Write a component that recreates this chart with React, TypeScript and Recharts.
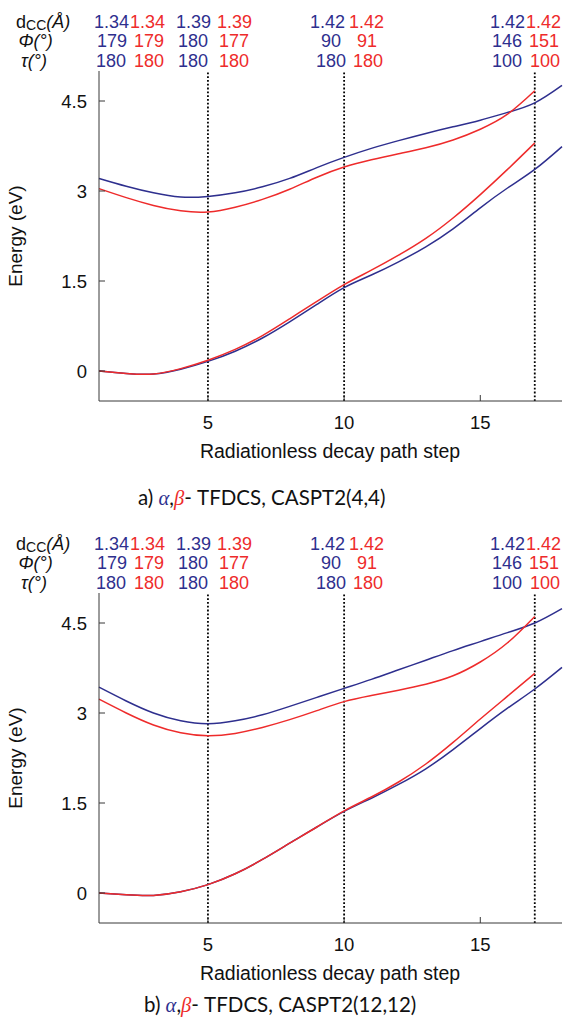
import { LineChart, Line, XAxis, YAxis, ReferenceLine } from 'recharts';

// ---------------------------------------------------------------------------
// Data
// ---------------------------------------------------------------------------

const steps = [1, 2, 3, 4, 5, 6, 7, 8, 9, 10, 11, 12, 13, 14, 15, 16, 17, 18];
const xTicks = [5, 10, 15];
const yTicks = [0, 1.5, 3, 4.5];
const markedSteps = [5, 10, 17];

// a) CASPT2(4,4)
const aAlphaUpper = [3.21, 3.08, 2.97, 2.9, 2.91, 2.97, 3.07, 3.21, 3.39, 3.56, 3.71, 3.84, 3.96, 4.07, 4.18, 4.31, 4.47, 4.76];
const aBetaUpper = [3.04, 2.89, 2.76, 2.67, 2.65, 2.73, 2.86, 3.03, 3.23, 3.4, 3.52, 3.62, 3.72, 3.85, 4.03, 4.28, 4.67];
const aAlphaLower = [0, -0.04, -0.05, 0.03, 0.16, 0.33, 0.55, 0.82, 1.11, 1.39, 1.6, 1.82, 2.07, 2.37, 2.72, 3.05, 3.36, 3.74];
const aBetaLower = [0, -0.04, -0.05, 0.04, 0.18, 0.36, 0.59, 0.87, 1.16, 1.44, 1.68, 1.93, 2.21, 2.55, 2.94, 3.36, 3.8];

// b) CASPT2(12,12)
const bAlphaUpper = [3.43, 3.2, 3.0, 2.87, 2.82, 2.87, 2.97, 3.11, 3.26, 3.41, 3.56, 3.72, 3.88, 4.04, 4.19, 4.34, 4.5, 4.74];
const bBetaUpper = [3.23, 3.0, 2.8, 2.67, 2.62, 2.66, 2.76, 2.89, 3.04, 3.19, 3.29, 3.38, 3.48, 3.62, 3.85, 4.17, 4.61];
const bAlphaLower = [0, -0.03, -0.04, 0.02, 0.14, 0.32, 0.56, 0.83, 1.1, 1.36, 1.58, 1.81, 2.07, 2.39, 2.74, 3.08, 3.4, 3.76];
const bBetaLower = [0, -0.03, -0.04, 0.02, 0.14, 0.32, 0.56, 0.83, 1.1, 1.37, 1.6, 1.85, 2.15, 2.51, 2.9, 3.28, 3.66];

// geometry annotations above each panel (alpha / beta)
const dccAlpha = ['1.34', '1.39', '1.42', '1.42'];
const dccBeta = ['1.34', '1.39', '1.42', '1.42'];
const phiAlpha = ['179', '180', '90', '146'];
const phiBeta = ['179', '177', '91', '151'];
const tauAlpha = ['180', '180', '180', '100'];
const tauBeta = ['180', '180', '180', '100'];

// ---------------------------------------------------------------------------
// Styling / layout
// ---------------------------------------------------------------------------

const BLUE = '#2e2f8e';
const RED = '#ee2b2b';
const FRAME = '#383838';
const SANS = '"Liberation Sans", Arial, sans-serif';

const W = 566;
const CHART_H = 446;
const X_AXIS_H = 45; // plot bottom ends at 401
const PLOT_TOP = 71;
const PLOT_LEFT = 99;

const headerLayout = [
  { y: 27.5, alphaEnd: [129, 211, 345, 525], betaStart: [130, 217, 349, 526] },
  { y: 47, alphaEnd: [127, 208, 341, 522], betaStart: [134, 219, 357, 529] },
  { y: 66.5, alphaEnd: [126, 208, 346, 522], betaStart: [134, 219, 353, 530] },
];

const buildRows = (au: number[], bu: number[], al: number[], bl: number[]) =>
  steps.map((step, i) => ({
    step,
    alphaUpper: au[i] ?? null,
    betaUpper: bu[i] ?? null,
    alphaLower: al[i] ?? null,
    betaLower: bl[i] ?? null,
  }));

const panelA = buildRows(aAlphaUpper, aBetaUpper, aAlphaLower, aBetaLower);
const panelB = buildRows(bAlphaUpper, bBetaUpper, bAlphaLower, bBetaLower);

function Header() {
  const rows = [
    { alpha: dccAlpha, beta: dccBeta },
    { alpha: phiAlpha, beta: phiBeta },
    { alpha: tauAlpha, beta: tauBeta },
  ];
  return (
    <g fontFamily={SANS} fontSize={18}>
      <text x={16} y={headerLayout[0].y} fill="#111">
        d<tspan fontSize={14} dy={2}>CC</tspan>
        <tspan dy={-2} fontStyle="italic">(Å)</tspan>
      </text>
      <text x={18.5} y={headerLayout[1].y} fill="#111" fontStyle="italic">Φ(°)</text>
      <text x={21} y={headerLayout[2].y} fill="#111" fontStyle="italic">τ(°)</text>
      {rows.map((r, ri) =>
        r.alpha.map((v, ci) => (
          <g key={`${ri}-${ci}`}>
            <text x={headerLayout[ri].alphaEnd[ci]} y={headerLayout[ri].y} textAnchor="end" fill={BLUE}>
              {v}
            </text>
            <text x={headerLayout[ri].betaStart[ci]} y={headerLayout[ri].y} fill={RED}>
              {r.beta[ci]}
            </text>
          </g>
        ))
      )}
    </g>
  );
}

interface PanelProps {
  data: ReturnType<typeof buildRows>;
  label: string;
  method: string;
  captionX: number;
  captionY: number;
  height: number;
}

function Panel({ data, label, method, captionX, captionY, height }: PanelProps) {
  const tickStyle = { fill: '#111', fontSize: 18.5, fontFamily: SANS };
  return (
    <div style={{ position: 'relative', width: W, height }}>
      <LineChart
        width={W}
        height={CHART_H}
        data={data}
        margin={{ top: PLOT_TOP, right: 4, bottom: 0, left: 0 }}
        style={{ position: 'absolute', left: 0, top: 0 }}
      >
        <XAxis
          dataKey="step"
          type="number"
          domain={[1, 18]}
          ticks={xTicks}
          height={X_AXIS_H}
          tickSize={-6}
          tickMargin={21}
          tick={tickStyle}
          axisLine={{ stroke: FRAME }}
          tickLine={{ stroke: FRAME }}
        />
        <XAxis
          xAxisId="top"
          orientation="top"
          type="number"
          domain={[1, 18]}
          ticks={xTicks}
          height={0}
          tickSize={-6}
          tick={false}
          axisLine={{ stroke: FRAME }}
          tickLine={{ stroke: FRAME }}
        />
        <YAxis
          type="number"
          domain={[-0.5, 5]}
          ticks={yTicks}
          width={PLOT_LEFT}
          tickSize={-6}
          tickMargin={18}
          tick={tickStyle}
          axisLine={{ stroke: FRAME }}
          tickLine={{ stroke: FRAME }}
        />
        <YAxis
          yAxisId="right"
          orientation="right"
          type="number"
          domain={[-0.5, 5]}
          ticks={yTicks}
          width={0}
          tickSize={-6}
          tick={false}
          axisLine={{ stroke: FRAME }}
          tickLine={{ stroke: FRAME }}
        />
        {markedSteps.map((s) => (
          <ReferenceLine key={s} x={s} stroke="#000" strokeWidth={1.8} strokeDasharray="1.8 2" />
        ))}
        <Line type="natural" dataKey="alphaUpper" stroke={BLUE} strokeWidth={1.5} dot={false} isAnimationActive={false} />
        <Line type="natural" dataKey="betaUpper" stroke={RED} strokeWidth={1.5} dot={false} isAnimationActive={false} />
        <Line type="natural" dataKey="alphaLower" stroke={BLUE} strokeWidth={1.5} dot={false} isAnimationActive={false} />
        <Line type="natural" dataKey="betaLower" stroke={RED} strokeWidth={1.5} dot={false} isAnimationActive={false} />
      </LineChart>
      <svg
        width={W}
        height={height}
        style={{ position: 'absolute', left: 0, top: 0, pointerEvents: 'none' }}
      >
        <Header />
        <text
          x={22}
          y={236}
          transform="rotate(-90 22 236)"
          textAnchor="middle"
          fontFamily={SANS}
          fontSize={19}
          fill="#111"
        >
          Energy (eV)
        </text>
        <text x={330} y={458} textAnchor="middle" fontFamily={SANS} fontSize={19.5} fill="#111">
          Radiationless decay path step
        </text>
        <text x={captionX} y={captionY} fontFamily="Lato, 'Open Sans', sans-serif" fontSize={20.5} fill="#111">
          {label}{' '}
          <tspan fill={BLUE} fontStyle="italic" fontFamily="'Liberation Serif', serif">α</tspan>
          ,
          <tspan fill={RED} fontStyle="italic" fontFamily="'Liberation Serif', serif">β</tspan>
          - TFDCS, {method}
        </text>
      </svg>
    </div>
  );
}

export default function App() {
  return (
    <div style={{ position: 'absolute', left: 0, top: 0, width: W, height: 1027, background: '#fff' }}>
      <Panel data={panelA} label="a)" method="CASPT2(4,4)" captionX={138} captionY={505} height={522} />
      <Panel data={panelB} label="b)" method="CASPT2(12,12)" captionX={144} captionY={490} height={505} />
    </div>
  );
}
